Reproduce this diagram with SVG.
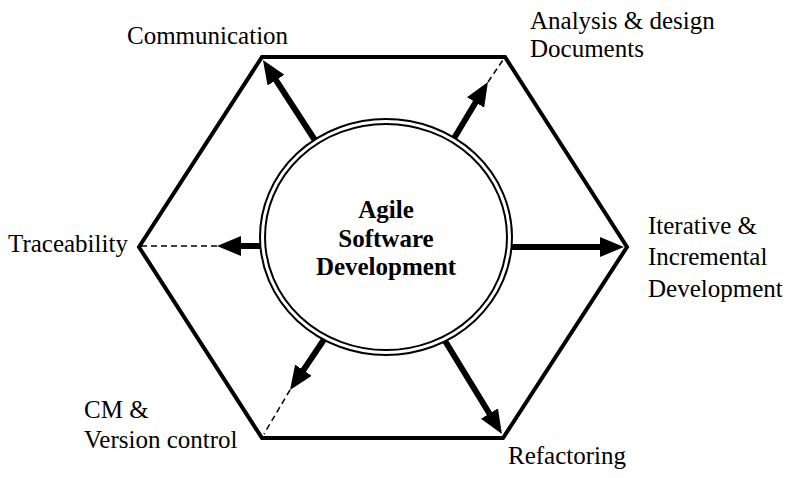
<svg xmlns="http://www.w3.org/2000/svg" width="789" height="478" viewBox="0 0 789 478">
<style>
.lbl{font-family:"Liberation Serif","Times New Roman",serif;font-size:25px;fill:#000}
.ctr{font-family:"Liberation Serif","Times New Roman",serif;font-size:25px;font-weight:bold;fill:#000;text-anchor:middle}
.arr{stroke:#000;stroke-width:6;fill:none;marker-end:url(#head)}
.dash{stroke:#000;stroke-width:1.5;stroke-dasharray:6 4;fill:none}
.hex{stroke:#000;stroke-width:4;fill:none;stroke-linejoin:miter}
.ring{stroke:#000;stroke-width:2;fill:#fff}
</style>
<defs>
<marker id="head" viewBox="0 0 24 20" refX="9" refY="10" markerWidth="24" markerHeight="20" markerUnits="userSpaceOnUse" orient="auto">
<path d="M0,0 L24,10 L0,20 Z" fill="#000"/>
</marker>
</defs>
<rect width="789" height="478" fill="#fff"/>
<g id="hexagon">
<polygon class="hex" points="262,57 505,57 627,247 503,438 262,438 139,247"/>
</g>
<g id="connectors">
<line class="arr" x1="320" y1="148" x2="271.1" y2="72.6"/>
<line class="arr" x1="450" y1="145" x2="480.2" y2="94.8"/>
<line class="dash" x1="488" y1="82" x2="505" y2="57"/>
<line class="arr" x1="268" y1="246" x2="232" y2="246"/>
<line class="dash" x1="217" y1="246" x2="140" y2="246"/>
<line class="arr" x1="505" y1="247" x2="609" y2="247"/>
<line class="arr" x1="329" y1="332" x2="298.4" y2="377.6"/>
<line class="dash" x1="290" y1="390" x2="264" y2="434"/>
<line class="arr" x1="439" y1="331" x2="494.1" y2="421.2"/>
</g>
<g id="center">
<ellipse class="ring" cx="386" cy="237" rx="126" ry="118"/>
<ellipse class="ring" cx="386" cy="237" rx="121" ry="113"/>
<text class="ctr" x="386" y="218">Agile</text>
<text class="ctr" x="386" y="247">Software</text>
<text class="ctr" x="386" y="275">Development</text>
</g>
<g id="communication"><text class="lbl" x="127" y="44">Communication</text></g>
<g id="analysis">
<text class="lbl" x="530" y="29">Analysis &amp; design</text>
<text class="lbl" x="530" y="57">Documents</text>
</g>
<g id="traceability"><text class="lbl" x="8" y="252">Traceability</text></g>
<g id="iterative">
<text class="lbl" x="648" y="234">Iterative &amp;</text>
<text class="lbl" x="648" y="265">Incremental</text>
<text class="lbl" x="648" y="297">Development</text>
</g>
<g id="cm">
<text class="lbl" x="84" y="418">CM &amp;</text>
<text class="lbl" x="84" y="448">Version control</text>
</g>
<g id="refactoring"><text class="lbl" x="508" y="464">Refactoring</text></g>
</svg>
